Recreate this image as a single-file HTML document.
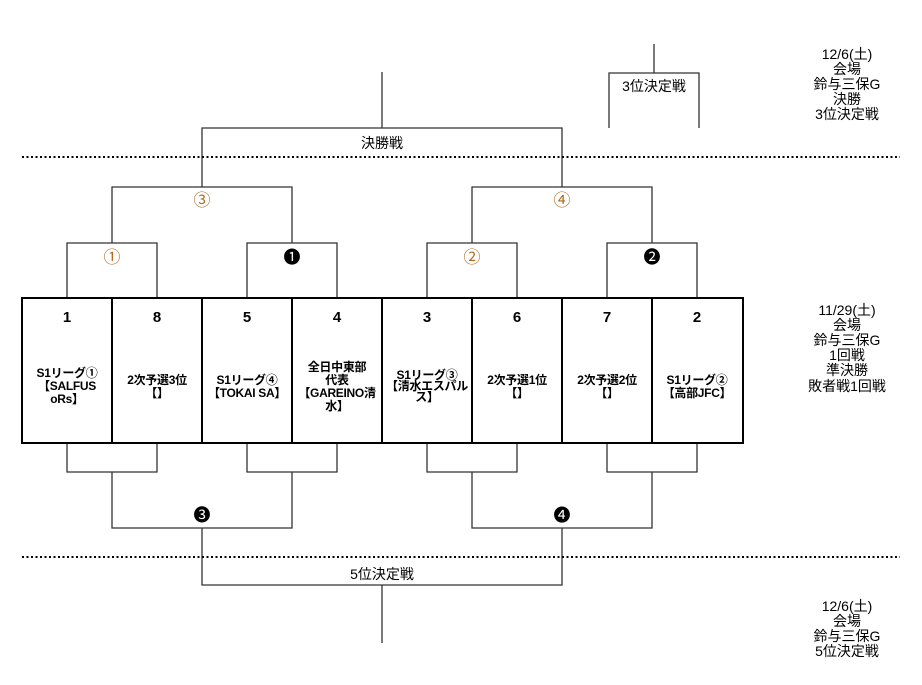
<!DOCTYPE html>
<html><head><meta charset="utf-8"><style>
body{margin:0;background:#fff;width:922px;height:680px;overflow:hidden}
svg text{font-family:"Liberation Sans","Noto Sans CJK JP",sans-serif}
.b{font-weight:bold}
</style></head><body>
<svg width="922" height="680" xmlns="http://www.w3.org/2000/svg">
<g stroke="#333" stroke-width="1.3" fill="none">
<path d="M67 298V243H157V298M247 298V243H337V298M427 298V243H517V298M607 298V243H697V298"/>
<path d="M112 243V187H292V243M472 243V187H652V243"/>
<path d="M202 187V128H562V187M382 128V72"/>
<path d="M609 128V73H699V128M654 73V44"/>
<path d="M67 443V472H157V443M247 443V472H337V443M427 443V472H517V443M607 443V472H697V443"/>
<path d="M112 472V528H292V472M472 472V528H652V472"/>
<path d="M202 528V585H562V528M382 585V643"/>
</g>
<g stroke="#000" stroke-width="2" stroke-dasharray="2,2.5">
<line x1="22" y1="157" x2="900" y2="157"/>
<line x1="22" y1="557" x2="900" y2="557"/>
</g>
<g stroke="#000" stroke-width="2" fill="none">
<rect x="22" y="298" width="721" height="145"/>
<path d="M112 298V443M202 298V443M292 298V443M382 298V443M472 298V443M562 298V443M652 298V443"/>
</g>
<g font-size="14" text-anchor="middle">
<text x="382" y="148">決勝戦</text>
<text x="654" y="91">3位決定戦</text>
<text x="382" y="579">5位決定戦</text>
</g>
<g font-size="17" text-anchor="middle">
<text x="202" y="206" fill="#b06a20">③</text>
<text x="562" y="206" fill="#b06a20">④</text>
<text x="112" y="263" fill="#b06a20">①</text>
<text x="472" y="263" fill="#b06a20">②</text>
<text x="292" y="263">❶</text>
<text x="652" y="263">❷</text>
<text x="202" y="521">❸</text>
<text x="562" y="521">❹</text>
</g>
<g font-size="15" text-anchor="middle" class="b">
<text x="67" y="322">1</text><text x="157" y="322">8</text><text x="247" y="322">5</text><text x="337" y="322">4</text>
<text x="427" y="322">3</text><text x="517" y="322">6</text><text x="607" y="322">7</text><text x="697" y="322">2</text>
</g>
<g font-size="12" text-anchor="middle" class="b" letter-spacing="-0.3">
<text x="67" y="377">S1リーグ①</text><text x="67" y="390">【SALFUS</text><text x="67" y="403">oRs】</text>
<text x="157" y="384">2次予選3位</text><text x="157" y="397">【】</text>
<text x="247" y="384">S1リーグ④</text><text x="247" y="397">【TOKAI SA】</text>
<text x="337" y="371">全日中東部</text><text x="337" y="384">代表</text><text x="337" y="397">【GAREINO清</text><text x="337" y="410">水】</text>
<text x="427" y="379">S1リーグ③</text><text x="427" y="390">【清水エスパル</text><text x="427" y="401">ス】</text>
<text x="517" y="384">2次予選1位</text><text x="517" y="397">【】</text>
<text x="607" y="384">2次予選2位</text><text x="607" y="397">【】</text>
<text x="697" y="384">S1リーグ②</text><text x="697" y="397">【高部JFC】</text>
</g>
<g font-size="14" text-anchor="middle">
<text x="847" y="59">12/6(土)</text><text x="847" y="74">会場</text><text x="847" y="89">鈴与三保G</text><text x="847" y="104">決勝</text><text x="847" y="119">3位決定戦</text>
<text x="847" y="315">11/29(土)</text><text x="847" y="330">会場</text><text x="847" y="345">鈴与三保G</text><text x="847" y="360">1回戦</text><text x="847" y="375">準決勝</text><text x="847" y="391">敗者戦1回戦</text>
<text x="847" y="611">12/6(土)</text><text x="847" y="626">会場</text><text x="847" y="641">鈴与三保G</text><text x="847" y="656">5位決定戦</text>
</g>
</svg>
</body></html>
